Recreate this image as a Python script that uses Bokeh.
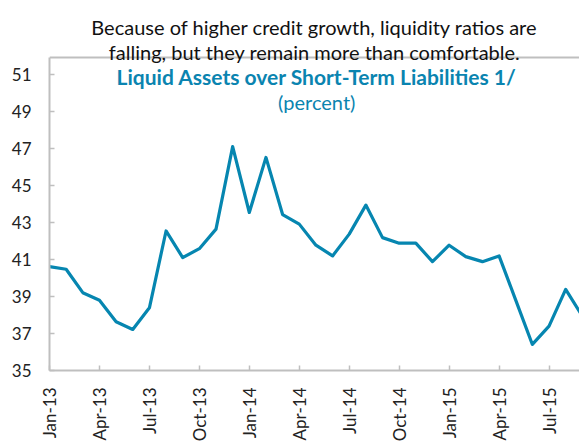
from math import pi
from bokeh.plotting import figure
from bokeh.models import Range1d, FixedTicker, Label, LinearAxis, ColumnDataSource
from bokeh.embed import file_html
from bokeh.resources import INLINE

# ---- data ----
months = ["Jan-13", "Feb-13", "Mar-13", "Apr-13", "May-13", "Jun-13", "Jul-13", "Aug-13",
          "Sep-13", "Oct-13", "Nov-13", "Dec-13", "Jan-14", "Feb-14", "Mar-14", "Apr-14",
          "May-14", "Jun-14", "Jul-14", "Aug-14", "Sep-14", "Oct-14", "Nov-14", "Dec-14",
          "Jan-15", "Feb-15", "Mar-15", "Apr-15", "May-15", "Jun-15", "Jul-15", "Aug-15",
          "Sep-15"]
liquidity = [40.62, 40.48, 39.21, 38.80, 37.64, 37.22, 38.39, 42.55,
             41.11, 41.59, 42.65, 47.11, 43.55, 46.53, 43.44, 42.92,
             41.78, 41.20, 42.38, 43.95, 42.19, 41.89, 41.89, 40.89,
             41.78, 41.16, 40.89, 41.20, 38.81, 36.41, 37.40, 39.39,
             37.95]
tick_labels = ["Jan-13", "Apr-13", "Jul-13", "Oct-13", "Jan-14", "Apr-14",
               "Jul-14", "Oct-14", "Jan-15", "Apr-15", "Jul-15"]
y_ticks = [35, 37, 39, 41, 43, 45, 47, 49, 51]

subtitle1 = "Because of higher credit growth, liquidity ratios are"
subtitle2 = "falling, but they remain more than comfortable."
title = "Liquid Assets over Short-Term Liabilities 1/"
units = "(percent)"

# ---- layout constants ----
FONT = "Lato"
BLUE = "#0A84B0"
AXIS = "#BFBFBF"
Y_MIN, AREA_TOP, CANVAS_TOP = 35, 51.92, 55.02   # plot-area top border and canvas top (value units)

x_idx = list(range(len(months)))
tick_pos = [months.index(t) for t in tick_labels]

p = figure(width=579, height=444, output_backend="svg", toolbar_location=None, title=None,
           x_range=Range1d(0, 31.83), y_range=Range1d(Y_MIN, CANVAS_TOP),
           min_border_left=49, min_border_right=0, min_border_top=0,
           min_border_bottom=74, x_axis_type=None, y_axis_type=None)
p.outline_line_color = None
p.background_fill_color = "white"
p.border_fill_color = "white"

# top border of the plot area
p.hspan(y=[AREA_TOP], line_color=AXIS, line_width=2)

src = ColumnDataSource(dict(x=x_idx, y=liquidity))
p.line("x", "y", source=src, line_color="#0686B0", line_width=3.2, line_join="round")

xaxis = LinearAxis(ticker=FixedTicker(ticks=tick_pos),
                   major_label_overrides={pos: lab for pos, lab in zip(tick_pos, tick_labels)},
                   major_label_orientation=pi / 2,
                   major_tick_in=5, major_tick_out=0,
                   minor_tick_line_color=None,
                   major_tick_line_color=AXIS, major_tick_line_width=1.5,
                   axis_line_color=AXIS, axis_line_width=2,
                   major_label_standoff=17,
                   major_label_text_font=FONT, major_label_text_font_size="17px",
                   major_label_text_color="#222222")
p.add_layout(xaxis, "below")

yaxis = LinearAxis(ticker=FixedTicker(ticks=y_ticks), bounds=(Y_MIN, AREA_TOP),
                   major_tick_in=5, major_tick_out=0,
                   minor_tick_line_color=None,
                   major_tick_line_color=AXIS, major_tick_line_width=1.5,
                   axis_line_color=AXIS, axis_line_width=2,
                   major_label_standoff=18,
                   major_label_text_font=FONT, major_label_text_font_size="17px",
                   major_label_text_color="#222222")
p.add_layout(yaxis, "left")

# ---- texts ----
p.add_layout(Label(x=15.92, y=53.58, text=subtitle1, text_align="center", text_baseline="alphabetic",
                   text_font=FONT, text_font_size="20px", text_color="#111111"))
p.add_layout(Label(x=15.92, y=52.23, text=subtitle2, text_align="center", text_baseline="alphabetic",
                   text_font=FONT, text_font_size="20px", text_color="#111111"))
p.add_layout(Label(x=16.05, y=50.92, text=title, text_align="center", text_baseline="middle",
                   text_font=FONT, text_font_size="21px", text_font_style="bold", text_color=BLUE))
p.add_layout(Label(x=16.05, y=49.51, text=units, text_align="center", text_baseline="middle",
                   text_font=FONT, text_font_size="20px", text_color=BLUE))

open("out.html", "w").write(file_html(p, INLINE))
